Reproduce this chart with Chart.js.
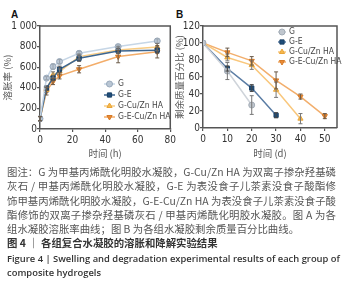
<!DOCTYPE html>
<html>
<head>
<meta charset="utf-8">
<script src="https://cdn.jsdelivr.net/npm/chart.js@4"></script>
<style>
  html, body { margin: 0; padding: 0; background: #fff; }
  body { width: 351px; height: 286px; position: relative; overflow: hidden; }
  canvas { position: absolute; top: 0; }
  .tag { position: absolute; top: 9px; font: bold 10px "Liberation Sans", Arial, sans-serif; color: #111; }
  #cap { position: absolute; left: 7px; top: 165px; width: 329px; font-family: "Noto Sans CJK SC", sans-serif; font-size: 10.4px; line-height: 14.3px; color: #555; }
  #cap .j { text-align: justify; text-align-last: justify; white-space: nowrap; }
  #fig { position: absolute; left: 7px; top: 236px; width: 329px; font-family: "Noto Sans CJK SC", sans-serif; font-size: 10.4px; line-height: 14px; color: #333; font-weight: bold; }
  #figen { position: absolute; left: 7px; top: 252px; width: 330px; font-family: "Open Sans", sans-serif; font-size: 9.4px; line-height: 13.5px; color: #333; font-weight: 600; }
  #figen .j { text-align: justify; text-align-last: justify; white-space: nowrap; }
</style>
</head>
<body>
<div class="tag" style="left:11px">A</div>
<div class="tag" style="left:176px">B</div>
<canvas id="chartA" width="178" height="165" style="left:0"></canvas>
<canvas id="chartB" width="179" height="165" style="left:172px"></canvas>

<div id="cap">
  <div class="j">图注：G 为甲基丙烯酰化明胶水凝胶，G-Cu/Zn HA 为双离子掺杂羟基磷</div>
  <div class="j">灰石 / 甲基丙烯酰化明胶水凝胶，G-E 为表没食子儿茶素没食子酸酯修</div>
  <div class="j">饰甲基丙烯酰化明胶水凝胶，G-E-Cu/Zn HA 为表没食子儿茶素没食子酸</div>
  <div class="j">酯修饰的双离子掺杂羟基磷灰石 / 甲基丙烯酰化明胶水凝胶。图 A 为各</div>
  <div>组水凝胶溶胀率曲线；图 B 为各组水凝胶剩余质量百分比曲线。</div>
</div>
<div id="fig">图 4 ｜ 各组复合水凝胶的溶胀和降解实验结果</div>
<div id="figen">
  <div class="j">Figure 4 | Swelling and degradation experimental results of each group of</div>
  <div>composite hydrogels</div>
</div>

<script>
// series names
const groups = ['G', 'G-E', 'G-Cu/Zn HA', 'G-E-Cu/Zn HA'];

// A: swelling rate (%) vs time (h)
const hoursA = [0, 4, 8, 12, 24, 48, 72];
const swellG = [100, 494, 606, 655, 735, 800, 855];
const swellGE = [100, 397, 494, 580, 687, 758, 765];
const swellGCu = [100, 380, 525, 558, 703, 768, 795];
const swellGECu = [100, 365, 461, 516, 580, 703, 750];
const swellErrG = [25, 15, 25, 20, 20, 15, 20];
const swellErrGE = [20, 20, 25, 30, 30, 25, 30];
const swellErrGCu = [20, 25, 30, 25, 25, 30, 35];
const swellErrGECu = [20, 35, 30, 30, 35, 60, 60];
const ticksA_y = [0, 200, 400, 600, 800, 1000];
const ticksA_x = [0, 20, 40, 60, 80];

// B: remaining mass (%) vs time (d)
const daysB = [0, 10, 20, 30, 40, 50];
const massG = [100, 67, 27];
const massGE = [100, 70, 47, 15];
const massGCu = [100, 83, 74, 45, 11];
const massGECu = [100, 89, 79, 56, 37, 14];
const massErrG = [0, 10, 11];
const massErrGE = [0, 3, 4, 3];
const massErrGCu = [0, 4, 5, 9, 6];
const massErrGECu = [0, 5, 5, 10, 3, 3];
const ticksB_y = [0, 20, 40, 60, 80, 100, 120];
const ticksB_x = [0, 10, 20, 30, 40, 50];

const axisColor = '#555';
const narrow = '"Liberation Sans Narrow", "DejaVu Sans Condensed", sans-serif';
const tickFont = { family: narrow, size: 10 };
const cjkFont = { family: 'Noto Sans CJK SC', size: 9.5 };

// marker + line styles per group
const styleA = [
  { line: '#c6d6e6', fill: '#b9c6d4', border: '#98a8ba', pt: 'circle', rot: 0, err: '#9aa4ae' },
  { line: '#3d6690', fill: '#1f4e7a', border: '#1a4066', pt: 'rect', rot: 0, err: '#555' },
  { line: '#f8cc84', fill: '#f7b84b', border: '#e8a53a', pt: 'triangle', rot: 0, err: '#777' },
  { line: '#f3ad6a', fill: '#ea8a33', border: '#d57a28', pt: 'triangle', rot: 180, err: '#6b5a48' }
];
const styleB = [
  { line: '#cfd4da', fill: '#bfc6ce', border: '#a3acb6', pt: 'circle', rot: 0, err: '#777' },
  { line: '#5a7ca4', fill: '#1f4e7a', border: '#1a4066', pt: 'rect', rot: 0, err: '#444' },
  { line: '#f9c77c', fill: '#f7b84b', border: '#e8a53a', pt: 'triangle', rot: 0, err: '#777' },
  { line: '#f2ae6c', fill: '#ea8a33', border: '#d57a28', pt: 'triangle', rot: 180, err: '#6b5a48' }
];

function pts(xs, ys, es) {
  return ys.map((y, i) => ({ x: xs[i], y: y, e: es[i] }));
}

function makeSet(label, data, s) {
  return {
    label: label,
    data: data,
    borderColor: s.line,
    borderWidth: 1.5,
    backgroundColor: s.fill,
    pointBackgroundColor: s.fill,
    pointBorderColor: s.border,
    pointBorderWidth: 1,
    pointStyle: s.pt,
    pointRotation: s.rot,
    pointRadius: 3,
    tension: 0
  };
}

// error bars, drawn through the chart's own scales
const errorBars = {
  id: 'errorBars',
  afterDatasetsDraw(chart, args, opts) {
    const ctx = chart.ctx;
    const xs = chart.scales.x, ys = chart.scales.y;
    chart.data.datasets.forEach((ds, di) => {
      const col = opts.colors[di];
      ctx.save();
      ctx.strokeStyle = col;
      ctx.lineWidth = 1;
      ds.data.forEach(p => {
        if (!p.e) return;
        const px = xs.getPixelForValue(p.x);
        const y1 = ys.getPixelForValue(p.y + p.e);
        const y2 = ys.getPixelForValue(p.y - p.e);
        ctx.beginPath();
        ctx.moveTo(px, y1); ctx.lineTo(px, y2);
        ctx.moveTo(px - 2, y1); ctx.lineTo(px + 2, y1);
        ctx.moveTo(px - 2, y2); ctx.lineTo(px + 2, y2);
        ctx.stroke();
      });
      ctx.restore();
    });
  }
};

// top and right frame lines
const frame = {
  id: 'frame',
  afterDraw(chart) {
    const { ctx, chartArea: a } = chart;
    ctx.save();
    ctx.strokeStyle = axisColor;
    ctx.lineWidth = 1.5;
    ctx.beginPath();
    ctx.moveTo(a.left, a.top);
    ctx.lineTo(a.right, a.top);
    ctx.lineTo(a.right, a.bottom);
    ctx.stroke();
    ctx.restore();
  }
};

// legend inside the plot
const innerLegend = {
  id: 'innerLegend',
  afterDraw(chart, args, opts) {
    const ctx = chart.ctx;
    ctx.save();
    chart.data.datasets.forEach((ds, i) => {
      const y = opts.y + i * opts.gap;
      const x = opts.x;
      ctx.strokeStyle = ds.borderColor;
      ctx.lineWidth = 1.5;
      ctx.beginPath();
      ctx.moveTo(x, y); ctx.lineTo(x + opts.len, y);
      ctx.stroke();
      ctx.fillStyle = ds.pointBackgroundColor;
      ctx.strokeStyle = ds.pointBorderColor;
      ctx.lineWidth = 1;
      Chart.helpers.drawPoint(ctx, {
        pointStyle: ds.pointStyle, rotation: ds.pointRotation, radius: 3, borderWidth: 1
      }, x + opts.len / 2, y);
      ctx.fillStyle = '#444';
      ctx.font = opts.size + 'px ' + narrow;
      ctx.textBaseline = 'middle';
      ctx.textAlign = 'left';
      ctx.fillText(ds.label, x + opts.len + 3, y);
    });
    ctx.restore();
  }
};

function scaleOpts(min, max, tickVals, title, fixed, isY, fmt) {
  return {
    type: 'linear',
    min: min,
    max: max,
    afterBuildTicks: s => { s.ticks = tickVals.map(v => ({ value: v })); },
    afterFit: s => { if (isY) s.width = fixed; else s.height = fixed; },
    grid: { display: true, drawOnChartArea: false, drawTicks: true, tickLength: 3, color: axisColor, lineWidth: 1.2 },
    border: { display: true, color: axisColor, width: 1.5 },
    ticks: { font: tickFont, color: '#333', padding: isY ? 0 : 2, maxRotation: 0, autoSkip: false, callback: fmt || (v => v) },
    title: {
      display: true, text: title, font: cjkFont, color: '#555',
      padding: isY ? { top: 2, bottom: 0 } : { top: 0, bottom: 6 }
    }
  };
}

const chartA = new Chart(document.getElementById('chartA'), {
  type: 'line',
  data: {
    datasets: [
      makeSet(groups[0], pts(hoursA, swellG, swellErrG), styleA[0]),
      makeSet(groups[1], pts(hoursA, swellGE, swellErrGE), styleA[1]),
      makeSet(groups[2], pts(hoursA, swellGCu, swellErrGCu), styleA[2]),
      makeSet(groups[3], pts(hoursA, swellGECu, swellErrGECu), styleA[3])
    ]
  },
  options: {
    responsive: false,
    animation: false,
    layout: { padding: { top: 26, right: 7, left: 0, bottom: 0 } },
    scales: {
      x: scaleOpts(0, 80, ticksA_x, '时间 (h)', 36, false),
      y: scaleOpts(0, 1000, ticksA_y, '溶胀率 (%)', 40, true, v => v === 1000 ? '1 000' : v)
    },
    plugins: {
      legend: { display: false },
      tooltip: { enabled: false },
      errorBars: { colors: styleA.map(s => s.err) },
      innerLegend: { x: 104, y: 84, gap: 11, len: 11, size: 8.5 }
    }
  },
  plugins: [errorBars, frame, innerLegend]
});

const chartB = new Chart(document.getElementById('chartB'), {
  type: 'line',
  data: {
    datasets: [
      makeSet(groups[0], pts(daysB, massG, massErrG), styleB[0]),
      makeSet(groups[1], pts(daysB, massGE, massErrGE), styleB[1]),
      makeSet(groups[2], pts(daysB, massGCu, massErrGCu), styleB[2]),
      makeSet(groups[3], pts(daysB, massGECu, massErrGECu), styleB[3])
    ]
  },
  options: {
    responsive: false,
    animation: false,
    layout: { padding: { top: 26, right: 14, left: 0, bottom: 0 } },
    scales: {
      x: scaleOpts(0, 55, ticksB_x, '时间 (d)', 37, false),
      y: scaleOpts(0, 120, ticksB_y, '剩余质量百分比 (%)', 31, true)
    },
    plugins: {
      legend: { display: false },
      tooltip: { enabled: false },
      errorBars: { colors: styleB.map(s => s.err) },
      innerLegend: { x: 106, y: 32, gap: 10, len: 8, size: 8.5 }
    }
  },
  plugins: [errorBars, frame, innerLegend]
});
</script>
</body>
</html>
